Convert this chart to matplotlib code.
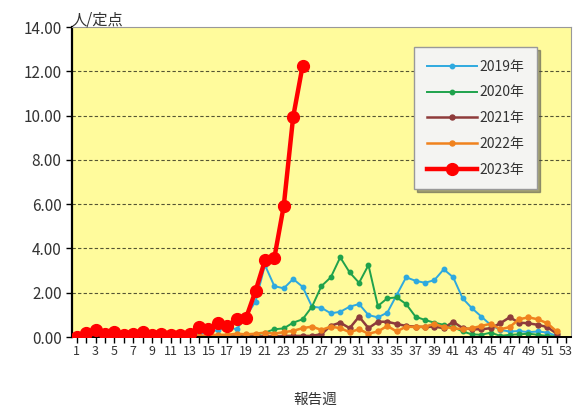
import matplotlib
matplotlib.use("Agg")
import matplotlib.pyplot as plt
from matplotlib.ticker import FixedLocator

plt.rcParams['font.family'] = ['Noto Sans CJK JP', 'DejaVu Sans']

weeks = list(range(1, 53))
weeks_2023 = list(range(1, 26))

y2019 = [0.05, 0.05, 0.03, 0.03, 0.05, 0.05, 0.03, 0.05, 0.05, 0.05, 0.08, 0.08, 0.1,
         0.15, 0.2, 0.32, 0.45, 0.35, 0.95, 1.6, 3.25, 2.3, 2.2, 2.62, 2.27, 1.37,
         1.32, 1.07, 1.14, 1.37, 1.49, 0.99, 0.89, 1.1, 1.9, 2.7, 2.54, 2.45, 2.57,
         3.06, 2.7, 1.75, 1.3, 0.92, 0.54, 0.32, 0.25, 0.27, 0.22, 0.25, 0.2, 0.05]
y2020 = [0.05, 0.05, 0.05, 0.03, 0.03, 0.03, 0.02, 0.02, 0.02, 0.02, 0.02, 0.0, 0.0,
         0.0, 0.0, 0.0, 0.02, 0.02, 0.05, 0.1, 0.2, 0.35, 0.39, 0.65, 0.8, 1.37,
         2.3, 2.7, 3.6, 2.92, 2.45, 3.25, 1.4, 1.75, 1.79, 1.49, 0.92, 0.77, 0.65,
         0.55, 0.45, 0.25, 0.12, 0.1, 0.2, 0.05, 0.1, 0.12, 0.15, 0.1, 0.05, 0.02]
y2021 = [0.02, 0.02, 0.02, 0.02, 0.02, 0.02, 0.02, 0.02, 0.02, 0.02, 0.02, 0.02, 0.02,
         0.02, 0.02, 0.02, 0.02, 0.02, 0.02, 0.03, 0.03, 0.03, 0.05, 0.05, 0.05, 0.05,
         0.13, 0.51, 0.65, 0.4, 0.92, 0.4, 0.69, 0.69, 0.59, 0.5, 0.47, 0.45, 0.47,
         0.4, 0.69, 0.4, 0.35, 0.35, 0.4, 0.62, 0.89, 0.65, 0.62, 0.55, 0.45, 0.15]
y2022 = [0.02, 0.02, 0.02, 0.02, 0.02, 0.02, 0.02, 0.02, 0.02, 0.02, 0.02, 0.02, 0.02,
         0.05, 0.08, 0.1, 0.1, 0.15, 0.12, 0.15, 0.2, 0.15, 0.22, 0.28, 0.4, 0.47,
         0.32, 0.47, 0.4, 0.22, 0.35, 0.15, 0.25, 0.5, 0.25, 0.47, 0.45, 0.47, 0.59,
         0.45, 0.4, 0.35, 0.4, 0.5, 0.6, 0.35, 0.45, 0.8, 0.89, 0.8, 0.62, 0.25]
y2023 = [0.02, 0.2, 0.3, 0.12, 0.24, 0.1, 0.14, 0.21, 0.08, 0.14, 0.07, 0.1, 0.14,
         0.44, 0.35, 0.65, 0.51, 0.8, 0.87, 2.08, 3.46, 3.58, 5.93, 9.95, 12.25]

y_ticks = list(range(0, 15, 2))
x_labels = list(range(1, 54, 2))

fig = plt.figure(figsize=(5.76, 4.12), dpi=100)
ax = fig.add_axes([0.125, 0.182, 0.866, 0.752])
ax.set_facecolor('#FFFB9C')

ax.plot(weeks, y2019, color='#2EA9DF', lw=1.4, marker='o', ms=3.2, label='2019年')
ax.plot(weeks, y2020, color='#1FA24C', lw=1.4, marker='o', ms=3.2, label='2020年')
ax.plot(weeks, y2021, color='#8E3B3B', lw=1.8, marker='o', ms=3.6, label='2021年')
ax.plot(weeks, y2022, color='#F0821E', lw=1.8, marker='o', ms=3.6, label='2022年')
ax.plot(weeks_2023, y2023, color='#FF0000', lw=3.2, marker='o', ms=8.5, label='2023年', zorder=5)

ax.set_xlim(0.5, 53.5)
ax.set_ylim(0, 14)
ax.set_yticks(y_ticks)
ax.set_yticklabels(['%.2f' % v for v in y_ticks], fontsize=11, color='#333333')
ax.xaxis.set_major_locator(FixedLocator(x_labels))
ax.xaxis.set_minor_locator(FixedLocator(list(range(2, 54, 2))))
ax.set_xticklabels([str(w) for w in x_labels], fontsize=9, color='#333333')
ax.tick_params(axis='x', which='both', direction='out', length=4, width=1, pad=2)
ax.tick_params(axis='y', direction='out', length=4, width=1)

for v in y_ticks[1:-1]:
    ax.axhline(v, color='#555533', lw=0.8, ls=(0, (3, 2)), zorder=0)

ax.spines['left'].set_linewidth(1.6)
ax.spines['bottom'].set_linewidth(1.4)
ax.spines['top'].set_color('#999999')
ax.spines['right'].set_color('#999999')

ax.text(0.0, 0.995, '人/定点', transform=ax.transAxes, fontsize=11, color='#333333',
        ha='left', va='bottom')
fig.text(0.547, 0.03, '報告週', fontsize=10.5, color='#333333', ha='center', va='center')

leg = ax.legend(loc='upper left', bbox_to_anchor=(0.672, 0.958), fontsize=10,
                frameon=True, shadow=True, fancybox=False, labelspacing=0.85,
                handlelength=3.6, borderpad=0.9, handletextpad=0.2)
leg.get_frame().set_facecolor('#F4F4F2')
leg.get_frame().set_edgecolor('#999999')
for t in leg.get_texts():
    t.set_color('#333333')

fig.savefig('out.png', dpi=100)
